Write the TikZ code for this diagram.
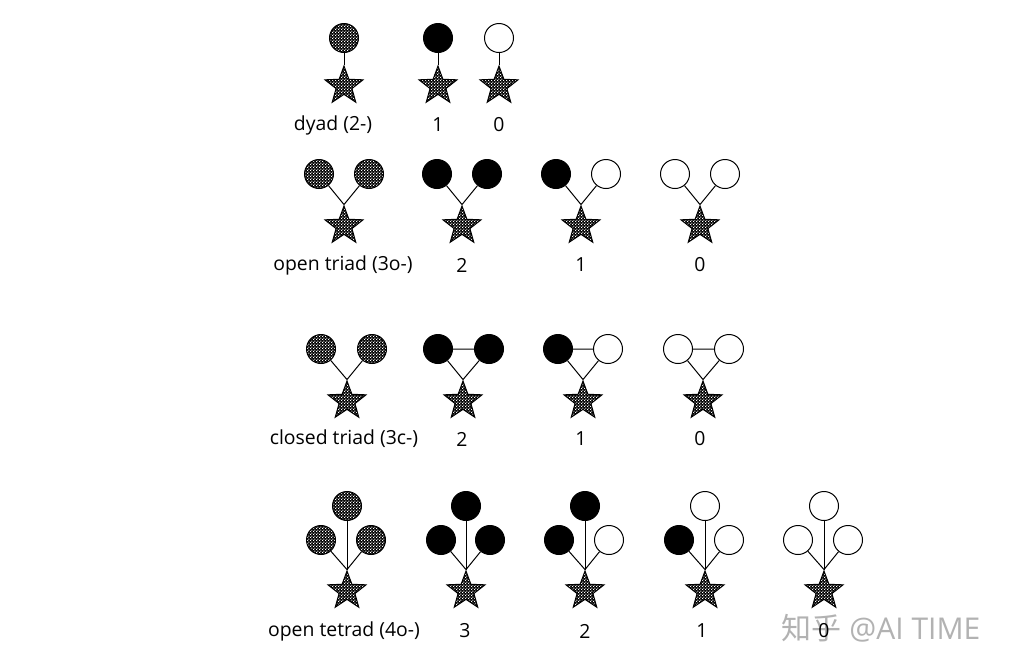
\documentclass[tikz,border=0pt]{standalone}
\usepackage{fontspec}
\setmainfont{Open Sans}
\newfontfamily\cjk{Noto Sans CJK SC}
\usetikzlibrary{shapes.geometric,patterns}
\pgfdeclarepatternformonly{checker}{\pgfpointorigin}{\pgfpoint{1.6pt}{1.6pt}}{\pgfpoint{1.6pt}{1.6pt}}{%
  \pgfpathrectangle{\pgfpoint{0.1pt}{0.1pt}}{\pgfpoint{0.6pt}{0.6pt}}%
  \pgfpathrectangle{\pgfpoint{0.9pt}{0.9pt}}{\pgfpoint{0.6pt}{0.6pt}}%
  \pgfusepath{fill}}

\begin{document}
\begin{tikzpicture}[
    x=0.5pt, y=-0.5pt,
    vert/.style={circle, draw, line width=0.5pt, minimum size=14.5pt, inner sep=0pt},
    dots/.style={preaction={fill=black}, pattern=checker, pattern color=white},
    alt/.style={vert, dots},
    altb/.style={vert, fill=black},
    altw/.style={vert, fill=white},
    ego/.style={star, star points=5, star point ratio=2.4, draw, line width=0.5pt, minimum size=20pt, inner sep=0pt, dots},
    tie/.style={line width=0.5pt},
    lbl/.style={font=\fontsize{9.7}{11}\selectfont}
  ]
    \useasboundingbox (0,0) rectangle (1024,671);

    % dyad
    \node[alt] (d0a) at (344,38) {}; \node[ego] (d0) at (344,86) {};
    \node[altb] (d1a) at (438,38) {}; \node[ego] (d1) at (438,86) {};
    \node[altw] (d2a) at (499,38) {}; \node[ego] (d2) at (499,86) {};
    \draw[tie] (d0a) -- (d0.north); \draw[tie] (d1a) -- (d1.north); \draw[tie] (d2a) -- (d2.north);
    \node[lbl] (dl) at (333,125) {dyad (2-)};
    \node[lbl] (dl1) at (438,125) {1};
    \node[lbl] (dl2) at (499,125) {0};

    % open triad
    \node[alt] (o0a) at (319,174) {}; \node[alt] (o0b) at (369,174) {}; \node[ego] (o0) at (344,226) {};
    \node[altb] (o1a) at (437,174) {}; \node[altb] (o1b) at (487,174) {}; \node[ego] (o1) at (462,226) {};
    \node[altb] (o2a) at (556,174) {}; \node[altw] (o2b) at (606,174) {}; \node[ego] (o2) at (581,226) {};
    \node[altw] (o3a) at (675,174) {}; \node[altw] (o3b) at (725,174) {}; \node[ego] (o3) at (700,226) {};
    \draw[tie] (o0a) -- (o0.north) -- (o0b); \draw[tie] (o1a) -- (o1.north) -- (o1b);
    \draw[tie] (o2a) -- (o2.north) -- (o2b); \draw[tie] (o3a) -- (o3.north) -- (o3b);
    \node[lbl] (ol) at (343,265) {open triad (3o-)};
    \node[lbl] (ol1) at (462,265) {2};
    \node[lbl] (ol2) at (581,265) {1};
    \node[lbl] (ol3) at (700,265) {0};

    % closed triad
    \node[alt] (c0a) at (321,349) {}; \node[alt] (c0b) at (372,349) {}; \node[ego] (c0) at (347,401) {};
    \node[altb] (c1a) at (438,349) {}; \node[altb] (c1b) at (489,349) {}; \node[ego] (c1) at (463,401) {};
    \node[altb] (c2a) at (558,349) {}; \node[altw] (c2b) at (608,349) {}; \node[ego] (c2) at (583,401) {};
    \node[altw] (c3a) at (678,349) {}; \node[altw] (c3b) at (729,349) {}; \node[ego] (c3) at (703,401) {};
    \draw[tie] (c0a) -- (c0.north) -- (c0b);
    \draw[tie] (c1a) -- (c1.north) -- (c1b) -- (c1a);
    \draw[tie] (c2a) -- (c2.north) -- (c2b) -- (c2a);
    \draw[tie] (c3a) -- (c3.north) -- (c3b) -- (c3a);
    \node[lbl] (cl) at (344,439) {closed triad (3c-)};
    \node[lbl] (cl1) at (462,439) {2};
    \node[lbl] (cl2) at (581,439) {1};
    \node[lbl] (cl3) at (700,439) {0};

    % open tetrad
    \node[alt] (t0a) at (321,540) {}; \node[alt] (t0b) at (347,506) {}; \node[alt] (t0c) at (371,540) {}; \node[ego] (t0) at (347,591) {};
    \node[altb] (t1a) at (441,540) {}; \node[altb] (t1b) at (466,506) {}; \node[altb] (t1c) at (490,540) {}; \node[ego] (t1) at (466,591) {};
    \node[altb] (t2a) at (559,540) {}; \node[altb] (t2b) at (585,506) {}; \node[altw] (t2c) at (609,540) {}; \node[ego] (t2) at (585,591) {};
    \node[altb] (t3a) at (679,540) {}; \node[altw] (t3b) at (705,506) {}; \node[altw] (t3c) at (729,540) {}; \node[ego] (t3) at (705,591) {};
    \node[altw] (t4a) at (798,540) {}; \node[altw] (t4b) at (824,506) {}; \node[altw] (t4c) at (848,540) {}; \node[ego] (t4) at (824,591) {};
    \draw[tie] (t0a) -- (t0.north) -- (t0c); \draw[tie] (t0b) -- (t0.north);
    \draw[tie] (t1a) -- (t1.north) -- (t1c); \draw[tie] (t1b) -- (t1.north);
    \draw[tie] (t2a) -- (t2.north) -- (t2c); \draw[tie] (t2b) -- (t2.north);
    \draw[tie] (t3a) -- (t3.north) -- (t3c); \draw[tie] (t3b) -- (t3.north);
    \draw[tie] (t4a) -- (t4.north) -- (t4c); \draw[tie] (t4b) -- (t4.north);
    \node[lbl, text=black!30, font=\fontsize{15}{17}\selectfont] (wm) at (881,628) {{\cjk 知乎} @AI TIME};
    \node[lbl] (tl) at (344,631) {open tetrad (4o-)};
    \node[lbl] (tl1) at (465,631) {3};
    \node[lbl] (tl2) at (585,631) {2};
    \node[lbl] (tl3) at (702,631) {1};
    \node[lbl] (tl4) at (824,631) {0};
  \end{tikzpicture}
\end{document}
